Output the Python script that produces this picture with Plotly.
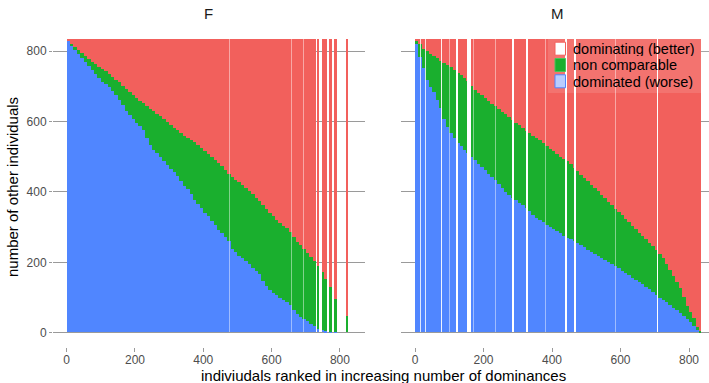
import plotly.graph_objects as go

# ---------------- data ----------------
others_total = 834

# F panel: rank position (bar centre), number of consecutive ranks covered
f_rank = list(range(5, 730, 10)) + [736.5, 750.5, 758, 773, 787.5, 821]
f_span = [10] * 73 + [7, 7, 8, 10, 8, 8]
f_dominated = [828, 815, 803, 791, 780, 769, 757, 745, 733, 721,
               711, 704, 696, 685, 673, 660, 645, 630, 617, 605,
               594, 585, 574, 552, 533, 518, 508, 498, 486, 474,
               464, 455, 444, 429, 416, 406, 394, 376, 364, 352,
               340, 329, 317, 305, 292, 281, 271, 258, 238, 228,
               218, 210, 202, 193, 184, 175, 165, 146, 131, 121,
               113, 106, 98, 92, 85, 78, 64, 53, 44, 38,
               31, 25, 19,
               10, 6, 3, 2, 1, 0]
f_noncomparable = [2, 5, 8, 11, 13, 15, 18, 22, 28, 34,
                   38, 37, 37, 41, 45, 50, 55, 60, 65, 69,
                   72, 73, 76, 90, 102, 110, 112, 115, 119, 123,
                   125, 126, 130, 137, 142, 146, 152, 164, 168, 172,
                   175, 178, 181, 184, 188, 190, 190, 193, 204, 206,
                   208, 208, 208, 209, 208, 207, 208, 216, 219, 218,
                   217, 214, 213, 211, 210, 208, 208, 204, 204, 199,
                   195, 189, 184,
                   177, 164, 149, 127, 95, 45]
f_dominating = [4, 14, 23, 32, 41, 50, 59, 67, 73, 79,
                85, 93, 101, 108, 116, 124, 134, 144, 152, 160,
                168, 176, 184, 192, 199, 206, 214, 221, 229, 237,
                245, 253, 260, 268, 276, 282, 288, 294, 302, 310,
                319, 327, 336, 345, 354, 363, 373, 383, 392, 400,
                408, 416, 424, 432, 442, 452, 461, 472, 484, 495,
                504, 514, 523, 531, 539, 548, 562, 577, 586, 597,
                608, 620, 631,
                647, 664, 682, 705, 738, 789]
# missing ranks (thin gaps) inside the dense part
f_gap_rank = [477, 659, 693]
f_gap_span = [3, 3, 3]
f_gap_alpha = [0.45, 0.45, 0.45]

# M panel
m_rank = list(range(5, 830, 10)) + [832]
m_span = [10] * 83 + [4]
m_dominated = [820, 782, 750, 716, 698, 683, 660, 637, 605, 583,
               566, 553, 539, 529, 519, 509, 499, 489, 479, 470,
               461, 451, 441, 432, 422, 411, 399, 389, 381, 375,
               368, 361, 354, 344, 334, 326, 318, 312, 306, 300,
               294, 288, 281, 275, 269, 264, 259, 254, 248, 241,
               235, 228, 222, 216, 211, 206, 201, 195, 188, 182,
               175, 168, 162, 155, 149, 142, 136, 129, 122, 114,
               106, 98, 91, 85, 78, 70, 62, 54, 46, 38,
               30, 19, 6, 0]
m_noncomparable = [8, 36, 56, 82, 93, 102, 119, 134, 160, 176,
                   187, 192, 198, 201, 203, 205, 201, 200, 202, 203,
                   204, 206, 208, 210, 212, 215, 220, 222, 222, 220,
                   220, 219, 218, 221, 223, 225, 227, 226, 224, 222,
                   220, 218, 218, 218, 218, 214, 209, 204, 200, 197,
                   194, 191, 188, 184, 180, 175, 170, 166, 163, 160,
                   157, 154, 151, 148, 144, 141, 138, 135, 132, 130,
                   128, 124, 119, 109, 99, 90, 81, 71, 54, 37,
                   27, 21, 9, 3]
m_dominating = [6, 16, 28, 36, 43, 49, 55, 63, 69, 75,
                81, 89, 97, 104, 112, 120, 134, 145, 153, 161,
                169, 177, 185, 192, 200, 208, 215, 223, 231, 239,
                246, 254, 262, 269, 277, 283, 289, 296, 304, 312,
                320, 328, 335, 341, 347, 356, 366, 376, 386, 396,
                405, 415, 424, 434, 443, 453, 463, 473, 483, 492,
                502, 512, 521, 531, 541, 551, 560, 570, 580, 590,
                600, 612, 624, 640, 657, 674, 691, 709, 734, 759,
                777, 794, 819, 831]
m_gap_rank = [15.5, 30.5, 46, 77.5, 99.5, 121.5, 155.5, 160.5, 170, 236,
              286, 327, 381.5, 440, 466.5, 586, 708]
m_gap_span = [1.5, 1.5, 1.5, 2, 3, 3.5, 3, 3, 3, 3,
              2, 2, 3, 2, 3, 3, 2]
m_gap_alpha = [0.8, 0.8, 0.8, 0.9, 0.45, 1, 1, 1, 0.45, 0.45,
               1, 1, 0.45, 1, 1, 0.45, 1]

x_ticks = [0, 200, 400, 600, 800]
y_ticks = [0, 200, 400, 600, 800]
series_names = ["dominating (better)", "non comparable", "dominated (worse)"]

# ---------------- style ----------------
RED = "#F2605C"
GREEN = "#1AAF2E"
BLUE = "#5086FF"
GRID = "#9a9a9a"
FONT = "Liberation Sans, Arial, sans-serif"
W, H = 709, 383

fig = go.Figure()


def add_panel(rank, span, dom, nonc, domi, gap_rank, gap_span, gap_alpha, xa, ya):
    base_green = list(dom)
    base_red = [a + b for a, b in zip(dom, nonc)]
    common = dict(x=rank, width=span, xaxis=xa, yaxis=ya, showlegend=False,
                  hoverinfo="skip")
    fig.add_bar(y=dom, base=[0] * len(rank), name=series_names[2],
                marker=dict(color=BLUE, line=dict(width=0)), **common)
    fig.add_bar(y=nonc, base=base_green, name=series_names[1],
                marker=dict(color=GREEN, line=dict(width=0)), **common)
    fig.add_bar(y=domi, base=base_red, name=series_names[0],
                marker=dict(color=RED, line=dict(width=0)), **common)
    fig.add_bar(x=gap_rank, y=[others_total] * len(gap_rank), base=[0] * len(gap_rank),
                width=gap_span, xaxis=xa, yaxis=ya, showlegend=False, hoverinfo="skip",
                marker=dict(color=[f"rgba(255,255,255,{a})" for a in gap_alpha],
                            line=dict(width=0)))


add_panel(f_rank, f_span, f_dominated, f_noncomparable, f_dominating,
          f_gap_rank, f_gap_span, f_gap_alpha, "x", "y")
add_panel(m_rank, m_span, m_dominated, m_noncomparable, m_dominating,
          m_gap_rank, m_gap_span, m_gap_alpha, "x2", "y2")

xcommon = dict(tickvals=x_ticks, ticks="outside", ticklen=3.5, tickwidth=1,
               tickcolor=GRID, showgrid=False, zeroline=False, showline=False,
               ticklabelstandoff=-2,
               tickfont=dict(family=FONT, size=12, color="#4d4d4d"), fixedrange=True)
ycommon = dict(tickvals=y_ticks, range=[-41.7, 875.7], domain=[0.09295, 0.93629],
               showgrid=True, gridcolor=GRID, gridwidth=1.2, zeroline=False,
               showline=False, tickfont=dict(family=FONT, size=12, color="#4d4d4d"),
               fixedrange=True)

fig.update_layout(
    width=W, height=H,
    margin=dict(l=0, r=0, t=0, b=0),
    paper_bgcolor="white", plot_bgcolor="white",
    barmode="overlay", bargap=0,
    showlegend=False,
    font=dict(family=FONT, color="black"),
    xaxis=dict(domain=[53 / W, 365 / W], range=[-40, 873.5], anchor="y", **xcommon),
    xaxis2=dict(domain=[401 / W, 1.0], range=[-40.9, 858.4], anchor="y2", **xcommon),
    yaxis=dict(anchor="x", ticks="outside", ticklen=3, tickcolor=GRID, **ycommon),
    yaxis2=dict(anchor="x2", ticks="", showticklabels=False, **ycommon),
)


def label(text, px, py, size=15, color="black", angle=0, xanchor="center", height=None):
    d = dict(text=text, x=px / W, y=1 - py / H, xref="paper", yref="paper",
             xanchor=xanchor, yanchor="middle", showarrow=False, textangle=angle,
             font=dict(size=size, color=color))
    if height is not None:
        d["height"] = height
        d["borderpad"] = 0
        d["valign"] = "middle"
    return d


ann = [
    label("F", 208.8, 13, color="#1a1a1a"),
    label("M", 557, 13, color="#1a1a1a"),
    label("indiviudals ranked in increasing number of dominances", 383, 375),
    label("number of other individuals", 12, 187, angle=-90),
]

# legend (drawn manually)
shapes = [dict(type="rect", xref="paper", yref="paper", x0=548 / W, x1=1.0,
               y0=1 - 93 / H, y1=1 - 28 / H, fillcolor="rgba(255,255,255,0.12)",
               line=dict(width=0), layer="above")]
text_rows = [48.7, 65.0, 81.3]
key_fill = ["white", GREEN, "#b9cdff"]
key_line = [RED, "#4cc25a", BLUE]
for i, name in enumerate(series_names):
    yc = text_rows[i]
    shapes.append(dict(type="rect", xref="paper", yref="paper",
                       x0=555 / W, x1=565.5 / W, y0=1 - (yc + 6.5) / H,
                       y1=1 - (yc - 6.5) / H,
                       fillcolor=key_fill[i], line=dict(color=key_line[i], width=1),
                       layer="above"))
    ann.append(label(name, 572, yc, size=14.5, xanchor="left", height=15))

fig.update_layout(annotations=ann, shapes=shapes)
fig.write_html("out.html")
